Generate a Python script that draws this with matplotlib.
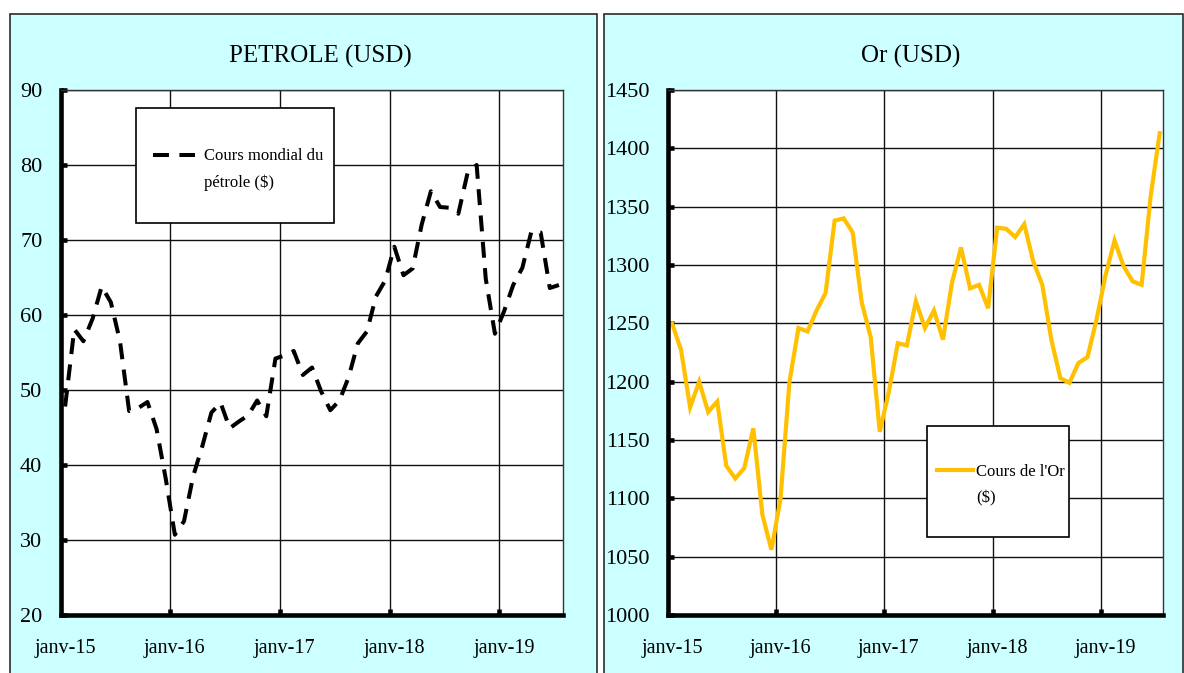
import numpy as np
import matplotlib.pyplot as plt
from matplotlib.patches import Rectangle
from matplotlib.lines import Line2D

plt.rcParams['font.family'] = ['Liberation Serif', 'DejaVu Serif']
plt.rcParams['lines.scale_dashes'] = False

W, H = 1184, 673

# étiquettes de l'axe des dates (un point par mois, janv-15 -> juil-19)
annees = ['janv-15', 'janv-16', 'janv-17', 'janv-18', 'janv-19']

# cours mondial du pétrole ($)
petrole = [47.8, 58.1, 56.5, 59.5, 63.8, 61.7, 56.5, 47.2, 47.6, 48.4, 44.8, 38.2,
           30.7, 32.5, 38.5, 42.5, 47.0, 48.3, 44.9, 45.8, 46.6, 48.6, 46.5, 54.2,
           54.6, 55.2, 52.0, 53.0, 49.8, 47.3, 48.6, 51.7, 56.2, 57.8, 62.5, 64.6,
           69.1, 65.3, 66.2, 72.1, 76.5, 74.4, 74.3, 73.5, 78.9, 80.0, 64.8, 57.5,
           60.5, 64.0, 66.3, 71.2, 71.0, 63.6, 64.0]

# cours de l'or ($)
or_usd = [1250, 1227, 1178, 1200, 1174, 1183, 1128, 1117, 1126, 1160, 1086, 1056,
          1099, 1200, 1246, 1243, 1261, 1276, 1338, 1340, 1328, 1268, 1238, 1157,
          1191, 1233, 1231, 1269, 1246, 1261, 1236, 1285, 1315, 1280, 1283, 1263,
          1332, 1331, 1324, 1335, 1303, 1283, 1236, 1203, 1199, 1216, 1221, 1253,
          1291, 1321, 1299, 1286, 1283, 1359, 1413]

ticks_petrole = [20, 30, 40, 50, 60, 70, 80, 90]
ticks_or = [1000, 1050, 1100, 1150, 1200, 1250, 1300, 1350, 1400, 1450]

mois = np.arange(len(petrole))


def fx(px):
    return px / W


def fy(py):
    return 1 - py / H


fig = plt.figure(figsize=(W / 100, H / 100), dpi=100)

# fonds des deux cadres
for x0, x1 in [(9.6, 597.3), (604.3, 1183.0)]:
    fig.add_artist(Rectangle((fx(x0), fy(700)), fx(x1) - fx(x0), fy(14) - fy(700),
                             transform=fig.transFigure, facecolor='#CCFFFF',
                             edgecolor='#2b2b2b', lw=1.2, zorder=-1))

style_petrole = dict(color='black', lw=2.9, dashes=(11.5, 7.5))
style_or = dict(color='#FFC000', lw=3.0, solid_joinstyle='miter')


def panneau(x0, x1, serie, yticks, titre, tx, style):
    ax = fig.add_axes([fx(x0), fy(615), fx(x1) - fx(x0), fy(90) - fy(615)])
    ax.plot(mois, serie, **style)
    ax.set_xlim(-0.45, 54.4)
    ax.set_ylim(yticks[0], yticks[-1])
    ax.set_yticks(yticks)
    # grille entre décembre et janvier, étiquettes sous janvier
    ax.set_xticks([11.5, 23.5, 35.5, 47.5])
    ax.set_xticklabels([])
    ax.set_xticks(np.arange(0, 49, 12), minor=True)
    ax.set_xticklabels(annees, minor=True)
    ax.tick_params(axis='x', which='minor', length=0, pad=17, labelsize=14.5)
    ax.tick_params(axis='both', which='major', direction='in', length=4.5,
                   width=3.3, color='black')
    ax.tick_params(axis='y', pad=13.5, labelsize=16)
    ax.grid(True, which='major', color='#111111', lw=1.0)
    ax.set_axisbelow(True)
    for s in ['left', 'bottom']:
        ax.spines[s].set_linewidth(3.3)
    for s in ['top', 'right']:
        ax.spines[s].set_linewidth(1.0)
        ax.spines[s].set_color('#333333')
    fig.text(fx(tx), fy(56), titre, ha='center', va='center', fontsize=18)
    return ax


def legende(box, ligne, texte, tpos, style):
    bx0, by0, bx1, by1 = box
    fig.add_artist(Rectangle((fx(bx0), fy(by1)), fx(bx1) - fx(bx0), fy(by0) - fy(by1),
                             transform=fig.transFigure, facecolor='white',
                             edgecolor='black', lw=1.2, zorder=5))
    lx0, lx1, ly = ligne
    fig.add_artist(Line2D([fx(lx0), fx(lx1)], [fy(ly), fy(ly)],
                          transform=fig.transFigure, zorder=6, **style))
    fig.text(fx(tpos[0]), fy(tpos[1]), texte, ha='left', va='center',
             fontsize=12, linespacing=1.85, zorder=6)


panneau(61, 562.6, petrole, ticks_petrole, 'PETROLE (USD)', 320, style_petrole)
panneau(668, 1163.3, or_usd, ticks_or, 'Or (USD)', 910.6, style_or)

legende((135.9, 108.3, 334.1, 222.7), (153, 195, 155), 'Cours mondial du\npétrole ($)',
        (204, 169.5), style_petrole)
legende((927.3, 425.7, 1069.3, 537.3), (936.7, 972.7, 470), "Cours de l'Or\n($)",
        (976, 485.5), style_or)

fig.savefig('out.png', dpi=100)
